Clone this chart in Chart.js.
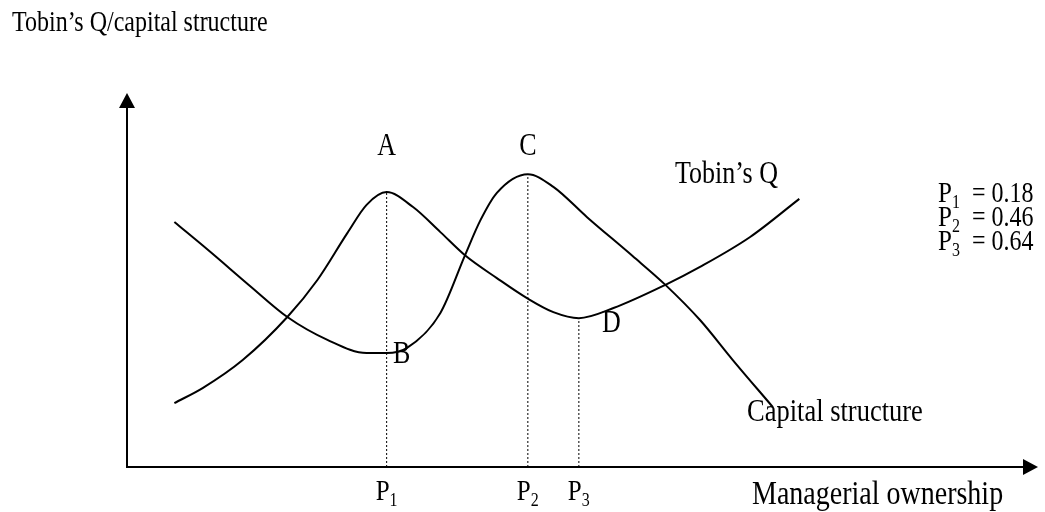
<!DOCTYPE html>
<html lang="en">
<head>
<meta charset="UTF-8">
<title>Tobin's Q / capital structure</title>
<script src="https://cdn.jsdelivr.net/npm/chart.js"></script>
<style>
  body { margin: 0; background: #fff; }
</style>
</head>
<body>
<canvas id="grafico" width="1045" height="512"></canvas>

<script>
// schematic curves, abstract units (x: managerial ownership 0-100, y: 0-100)
const tobinX = [5.2, 8.3, 12.7, 17.6, 20.9, 24.2, 26.3, 28.5, 31.4, 34.4, 37.1, 40.6, 44.0, 46.8, 49.6, 53.4, 59.1, 62.9, 68.4, 73.8]
const tobinY = [17.1, 21.1, 28.6, 40.1, 50.0, 62.6, 70.1, 73.5, 69.5, 62.8, 56.6, 50.5, 45.0, 41.4, 39.8, 42.5, 48.7, 53.5, 61.5, 71.7]

const capX = [5.2, 9.1, 13.5, 17.6, 22.0, 26.3, 28.5, 30.7, 34.4, 37.1, 38.8, 40.6, 44.0, 46.8, 50.5, 55.5, 59.1, 62.9, 66.5, 70.9]
const capY = [65.5, 57.6, 48.4, 40.1, 34.0, 30.5, 30.5, 31.8, 41.2, 56.6, 66.0, 73.3, 78.3, 74.9, 66.8, 56.4, 48.7, 39.3, 28.6, 16.0]

// points P1, P2, P3 on the x axis and the height of the curve they drop from
const pontosNome = ['1', '2', '3']
const pontosX = [28.5, 44.0, 49.6]
const pontosTopo = [73.5, 78.3, 39.8]
const pontosValor = ['0.18', '0.46', '0.64']

const fonte = '"Liberation Serif", "Times New Roman", serif'
const esticar = 1.2   // the original lettering is taller than it is wide

function juntar(xs, ys) {
    let out = []
    for (let i = 0; i < xs.length; i++) out.push({ x: xs[i], y: ys[i] })
    return out
}

let datasets = [
    { label: "Tobin's Q", data: juntar(tobinX, tobinY) },
    { label: 'Capital structure', data: juntar(capX, capY) }
].map(function (d) {
    return Object.assign(d, {
        showLine: true,
        borderColor: '#000',
        borderWidth: 2,
        pointRadius: 0,
        cubicInterpolationMode: 'monotone'
    })
})

for (let i = 0; i < pontosX.length; i++) {
    datasets.push({
        label: 'P' + pontosNome[i],
        data: [{ x: pontosX[i], y: 0 }, { x: pontosX[i], y: pontosTopo[i] }],
        showLine: true,
        borderColor: '#000',
        borderWidth: 1,
        borderDash: [2, 2],
        pointRadius: 0
    })
}

function texto(ctx, s, x, y, size, align) {
    ctx.save()
    ctx.font = size + 'px ' + fonte
    ctx.textAlign = align || 'left'
    ctx.textBaseline = 'alphabetic'
    ctx.translate(x, y)
    ctx.scale(1, esticar)
    ctx.fillText(s, 0, 0)
    let w = ctx.measureText(s).width
    ctx.restore()
    return w
}

// "P" with a subscript digit
function pSub(ctx, n, x, y, size) {
    let w = texto(ctx, 'P', x, y, size)
    texto(ctx, n, x + w, y + size * 0.22, Math.round(size * 0.65))
}

const desenho = {
    id: 'desenho',
    afterDraw(chart) {
        const ctx = chart.ctx
        const a = chart.chartArea
        const sx = chart.scales.x
        ctx.save()
        ctx.fillStyle = '#000'
        ctx.strokeStyle = '#000'

        // axes with arrow heads
        ctx.lineWidth = 2
        ctx.beginPath()
        ctx.moveTo(a.left, a.top + 14)
        ctx.lineTo(a.left, a.bottom)
        ctx.lineTo(a.right - 14, a.bottom)
        ctx.stroke()
        ctx.beginPath()
        ctx.moveTo(a.left, a.top)
        ctx.lineTo(a.left - 8, a.top + 15)
        ctx.lineTo(a.left + 8, a.top + 15)
        ctx.closePath()
        ctx.fill()
        ctx.beginPath()
        ctx.moveTo(a.right, a.bottom)
        ctx.lineTo(a.right - 15, a.bottom - 8)
        ctx.lineTo(a.right - 15, a.bottom + 8)
        ctx.closePath()
        ctx.fill()

        // titles
        texto(ctx, 'Tobin\u2019s Q/capital structure', 12, 31, 24)
        texto(ctx, 'Managerial ownership', 752, 504, 28)
        texto(ctx, 'Tobin\u2019s Q', 675, 183, 26)
        texto(ctx, 'Capital structure', 747, 421, 26.5)

        // point letters
        texto(ctx, 'A', sx.getPixelForValue(pontosX[0]), 155, 26, 'center')
        texto(ctx, 'C', sx.getPixelForValue(pontosX[1]), 155, 26, 'center')
        texto(ctx, 'B', 393, 363, 26)
        texto(ctx, 'D', 602, 332, 26)

        // P labels under the axis and the legend block
        for (let i = 0; i < pontosX.length; i++) {
            let px = sx.getPixelForValue(pontosX[i])
            pSub(ctx, pontosNome[i], px - 11, 500, 25)
            let yy = 202 + i * 24
            pSub(ctx, pontosNome[i], 938, yy, 25)
            texto(ctx, '= ' + pontosValor[i], 972, yy, 24)
        }
        ctx.restore()
    }
}

new Chart(document.getElementById('grafico'), {
    type: 'scatter',
    data: { datasets: datasets },
    options: {
        responsive: false,
        animation: false,
        events: [],
        layout: { padding: { left: 127, right: 7, top: 93, bottom: 45 } },
        plugins: { legend: { display: false }, tooltip: { enabled: false } },
        scales: {
            x: { type: 'linear', min: 0, max: 100, display: false },
            y: { type: 'linear', min: 0, max: 100, display: false }
        }
    },
    plugins: [desenho]
})
</script>
</body>
</html>
